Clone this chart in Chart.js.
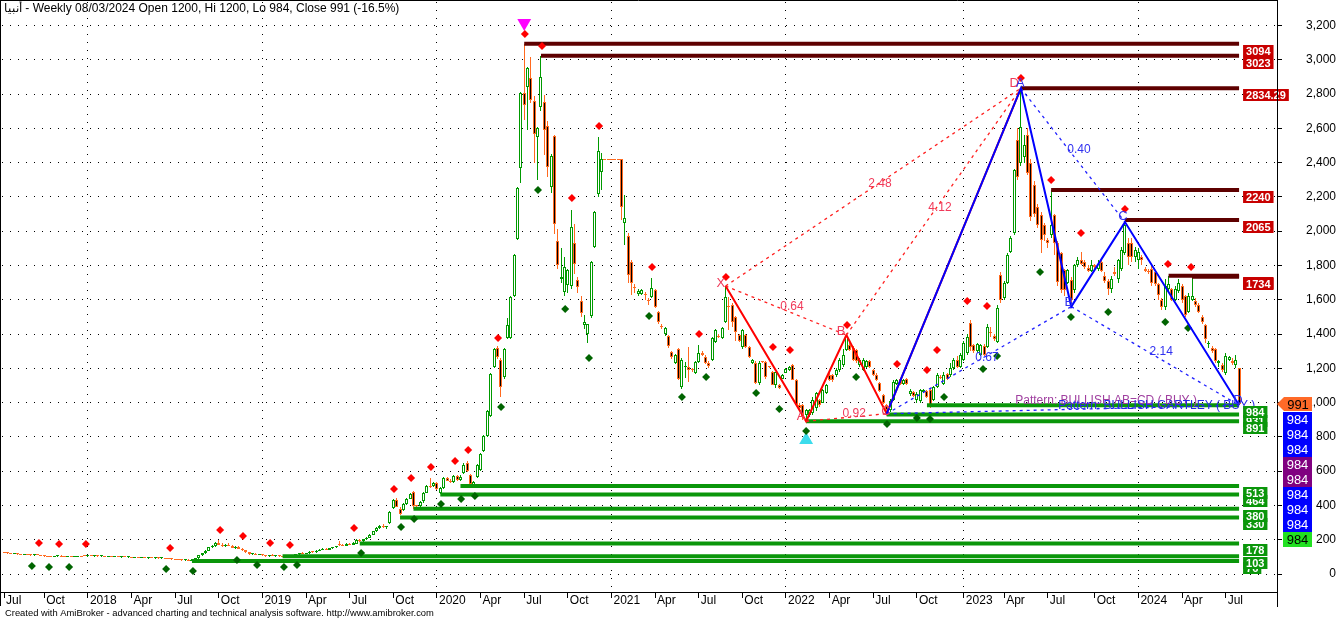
<!DOCTYPE html>
<html><head><meta charset="utf-8">
<script src="https://cdn.jsdelivr.net/npm/chart.js@4.4.1/dist/chart.umd.min.js"></script>
<style>html,body{margin:0;padding:0;background:#fff;overflow:hidden}#wrap{position:relative;width:1336px;height:619px}canvas{display:block}</style>
</head><body><div id="wrap"><canvas id="c" width="1336" height="619"></canvas></div>
<script>
// ---------- DATA ----------
const startYear = 2017, startMonth = 6, startDay = 15; // first weekly bar (Jul 15 2017)
const monthNames = ['Jan','Feb','Mar','Apr','May','Jun','Jul','Aug','Sep','Oct','Nov','Dec'];
const yTickValues = [0,200,400,600,800,1000,1200,1400,1600,1800,2000,2200,2400,2600,2800,3000,3200];

const opens = [
125,122,120,116,120,114,112,115,111,109, 112,110,106,104,102,100,103,107,101,100,
102,99,101,103,108,105,108,104,106,103, 104,102,103,101,102,99,100,98,99,96,
97,94,95,93,94,92,93,91,92,90, 88,86,84,82,80,82,78,84,93,108,
122,136,155,165,182,172,165,170,164,152, 160,147,138,127,115,119,112,115,108,104,
110,105,108,103,101,104,102,106,114,122, 118,121,130,127,136,142,146,141,150,155,
172,170,166,175,171,175,198,192,203,212, 228,248,268,280,272,295,385,432,381,373,
408,440,478,400,396,425,475,515,515,530, 470,500,560,545,537,570,550,590,650,578,
515,566,607,717,805,922,1208,1318,1248,1149, 1377,1377,1622,1954,2369,2806,2841,2894,2760,2550,
2725,2754,2614,2258,2555,1943,1721,1645,1686,1680, 1931,1715,1593,1453,1400,1505,1908,2217,2345,2421,
2421,2421,2421,2421,2421,2048,1972,1820,1670,1633, 1635,1630,1595,1616,1657,1528,1445,1400,1389,1295,
1231,1313,1091,1208,1208,1195,1173,1237,1290,1266, 1231,1248,1354,1390,1377,1470,1565,1569,1499,1394,
1324,1394,1324,1231,1231,1114,1240,1237,1210,1178, 1103,1103,1140,1175,1190,1219,1132,986,986,928,
928,939,969,1015,1000,1056,1161,1161,1161,1190, 1219,1307,1336,1319,1307,1219,1190,1210,1245,1190,
1161,1114,1044,986,957,1015,1110,1135,1110,1140, 1050,1060,1015,1010,1060,1070,1075,1015,1090,1150,
1110,1165,1160,1200,1250,1210,1248,1290,1464,1336, 1300,1280,1330,1324,1412,1390,1353,1744,1610,1698,
1879,1989,2532,2398,2432,2561,2398,2269,2141,2094, 2036,1949,1977,2094,1931,1873,1774,1700,1715,1657,
1803,1832,1820,1785,1770,1800,1780,1820,1740,1710, 1660,1760,1720,1780,1870,1930,1930,1850,1830,1850,
1780,1770,1780,1760,1690,1600,1560,1660,1660,1600, 1650,1680,1620,1530,1600,1590,1570,1500,1450,1340,
1320,1310,1230,1220,1170,1250,1240,1220,1200];
const highs = [
128,125,123,122,121,117,116,117,114,113, 118,112,109,107,105,104,110,109,104,103,
104,103,105,106,113,110,110,108,109,106, 107,105,106,104,104,102,103,101,101,99,
100,97,98,96,97,95,96,94,95,93, 91,89,87,85,84,85,86,95,112,125,
140,160,170,188,200,180,175,178,170,165, 164,152,142,130,122,122,118,118,112,112,
114,110,112,107,106,108,108,116,125,126, 124,132,134,138,145,150,150,152,160,165,
190,176,178,182,185,202,206,205,215,232, 252,272,285,290,282,370,440,445,392,412,
445,470,485,405,425,480,520,560,535,535, 506,565,565,552,575,578,575,645,660,585,
545,640,705,810,955,1170,1320,1330,1260,1320, 1494,1620,1865,2255,2810,3094,2960,3016,2790,2610,
3023,2795,2640,2450,2560,2010,1900,1850,1780,2124, 2040,1735,1620,1510,1460,1825,2115,2550,2456,2421,
2421,2421,2421,2421,2421,2211,1990,1830,1690,1660, 1665,1645,1610,1727,1665,1535,1460,1440,1395,1300,
1285,1320,1260,1237,1324,1200,1245,1336,1300,1275, 1240,1385,1430,1400,1440,1680,1616,1580,1505,1400,
1430,1400,1330,1255,1240,1240,1245,1245,1215,1185, 1180,1110,1165,1200,1215,1225,1140,995,990,960,
960,1030,1060,1020,1080,1110,1170,1165,1200,1260, 1310,1394,1360,1330,1315,1260,1260,1250,1250,1195,
1170,1120,1050,990,1020,1130,1140,1145,1140,1145, 1080,1070,1060,1080,1080,1075,1085,1095,1170,1160,
1180,1170,1230,1260,1270,1290,1360,1400,1480,1340, 1350,1340,1340,1460,1440,1400,1570,1760,1710,1870,
1970,2360,2600,2834,2560,2600,2420,2290,2160,2110, 2050,1960,2240,2100,1940,1880,1780,1780,1730,1810,
1850,1880,1830,1800,1830,1810,1830,1830,1760,1720, 1740,1790,1840,1910,2053,1960,1960,1910,1900,1860,
1790,1780,1800,1770,1700,1610,1720,1740,1670,1680, 1720,1690,1630,1640,1734,1610,1580,1510,1460,1360,
1330,1320,1250,1230,1290,1270,1260,1275,1200];
const lows = [
120,118,115,114,112,110,109,110,107,106, 108,104,102,100,98,97,101,100,98,97,
98,97,99,100,104,102,103,101,102,100, 101,99,100,98,98,96,97,95,94,93,
93,91,92,90,91,89,90,88,89,86, 84,82,80,78,76,75,76,82,90,105,
118,132,150,160,170,160,158,162,150,148, 145,135,125,113,112,110,108,106,102,102,
103,100,102,98,97,100,100,104,112,116, 115,119,124,125,133,138,139,139,147,150,
165,163,163,168,168,173,188,188,200,208, 225,245,262,268,262,290,380,388,345,365,
402,435,380,390,392,415,470,500,505,488, 465,495,540,530,532,545,540,585,595,520,
510,560,600,710,800,915,1200,1255,1033,1140, 1370,1370,1615,1950,2281,2649,2590,2748,2398,2299,
2700,2445,2316,2222,1984,1780,1698,1620,1640,1660, 1750,1640,1500,1430,1348,1495,1900,2200,2240,2421,
2421,2421,2421,2421,2065,1919,1700,1628,1640,1620, 1625,1600,1570,1610,1550,1460,1430,1390,1320,1255,
1225,1130,1080,1143,1120,1180,1165,1230,1270,1225, 1200,1240,1345,1375,1370,1465,1423,1440,1360,1355,
1315,1320,1260,1225,1110,1105,1232,1140,1200,1100, 1085,1080,1135,1170,1185,1130,980,960,900,891,
916,930,950,975,995,1050,1125,1120,1150,1180, 1210,1300,1300,1245,1230,1210,1185,1200,1200,1155,
1125,1060,990,935,945,1010,1100,1105,1100,1105, 1040,1030,1000,1000,1055,1025,970,1010,1085,1140,
1105,1130,1150,1190,1200,1200,1240,1280,1300,1290, 1290,1270,1270,1320,1380,1360,1345,1580,1600,1690,
1870,1980,2300,2380,2400,2330,2060,2080,2020,1870, 1940,1900,1960,1860,1680,1640,1620,1690,1560,1640,
1790,1800,1780,1760,1760,1770,1770,1760,1700,1630, 1640,1740,1700,1770,1860,1800,1820,1820,1780,1800,
1760,1750,1680,1680,1600,1540,1540,1650,1590,1590, 1640,1580,1500,1520,1590,1560,1520,1460,1350,1320,
1290,1230,1210,1180,1160,1240,1220,1200,984];
const closes = [
122,120,116,120,114,112,115,111,109,112, 110,106,104,102,100,103,107,101,100,102,
99,101,103,101,105,108,104,106,103,104, 102,103,101,102,99,100,98,99,96,97,
94,95,93,94,92,93,91,92,90,88, 86,84,82,80,82,78,84,93,108,122,
136,155,165,182,172,165,170,164,152,160, 147,138,127,115,119,112,115,108,104,110,
105,108,103,101,104,102,106,114,122,118, 121,130,127,136,142,146,141,150,157,162,
170,166,175,171,183,198,192,203,212,228, 248,268,280,272,276,362,432,392,352,408,
440,465,395,396,420,475,515,508,530,495, 500,560,545,537,570,550,568,636,601,525,
538,636,700,805,951,1167,1313,1266,1091,1313, 1453,1616,1861,2252,2806,2736,2952,2765,2567,2600,
2900,2590,2374,2439,2042,1800,1733,1791,1773,2024, 1808,1675,1523,1470,1458,1820,2112,2468,2421,2421,
2421,2421,2421,2421,2141,2077,1744,1698,1668,1651, 1655,1628,1593,1668,1558,1470,1441,1435,1330,1266,
1278,1138,1248,1210,1190,1190,1237,1290,1278,1231, 1215,1377,1424,1383,1435,1616,1558,1470,1412,1360,
1424,1324,1266,1248,1114,1231,1237,1149,1208,1103, 1178,1085,1160,1195,1208,1132,986,968,916,957,
957,1015,1056,986,1073,1103,1132,1132,1190,1248, 1278,1390,1307,1250,1240,1248,1250,1240,1210,1161,
1132,1067,1000,957,1010,1120,1130,1110,1130,1110, 1070,1040,1050,1075,1075,1035,985,1090,1160,1145,
1160,1140,1200,1250,1210,1280,1348,1380,1324,1300, 1340,1336,1280,1441,1408,1370,1552,1598,1698,1861,
1961,2357,2316,2608,2503,2339,2083,2100,2036,1949, 1977,1930,2036,1931,1704,1657,1657,1774,1598,1800,
1832,1810,1790,1770,1800,1790,1810,1770,1710,1660, 1720,1750,1830,1890,2036,1850,1850,1890,1880,1830,
1770,1760,1700,1690,1628,1560,1680,1690,1600,1660, 1700,1600,1510,1620,1620,1570,1530,1470,1370,1350,
1300,1240,1240,1190,1270,1265,1230,1250,991];

// swing-high (red) and swing-low (green) markers: bar index, price
const redPivotX = [10.4,16.4,24.4,49.5,64.4,71.2,79.3,85.2,104.3,116.2,121.3,127.2,134.4,138.3,147.2,155.2,160.3,169.2,177.3,193.1,207.1,215.1,229.1,234.2,251.2,266.1,275,278,287,292.9,303,312,320.9,334,346.8,353.7];
const redPivotY = [181,175,175,152,257,222,181,169,268,496,560,624,659,723,1377,3150,3080,2194,2614,1791,1400,1733,1324,1307,1453,1225,1190,1307,1593,1563,2894,2299,1989,2129,1809,1791];
const greenPivotX = [8.3,13.4,19.4,48.3,56.3,69.4,75.4,83.4,87.3,106.4,118.3,122.2,130.2,136.2,140.3,148.1,159.1,167.2,174.3,192.2,202,209.2,224.1,231,239,253.9,263.1,272,275.9,280.1,291.7,295.9,308.7,317.9,329,346,352.8];
const greenPivotY = [47,41,41,29,18,82,53,41,53,123,274,321,408,438,455,974,2240,1546,1260,1505,1033,1149,1056,963,834,1149,875,910,904,1033,1196,1272,1762,1499,1528,1470,1435];

// peak / trough arrows
const peakArrow = {x: 155, y: 3215};
const troughArrow = {x: 239, y: 782};

// horizontal resistance (maroon) and support (green) levels
const lastBar = 368;
const resistanceValues = [3094, 3023, 2834.29, 2240, 2065, 1740, 1734];
const resistanceStart  = [155, 160, 303, 312, 334, 347, 354];
const resistanceLabels = ['3094','3023','2834.29','2240','2065','1734','1734'];
const supportValues = [76, 103, 178, 330, 380, 464, 513, 931, 984, 891];
const supportStart  = [56, 83, 106, 118, 122, 130, 136, 263, 275, 239];
const supportLabels = ['76','103','178','330','380','464','513','931','984','891'];

// harmonic patterns (bar index, price)
const redPatX = [215, 239, 251, 263, 303];
const redPatY = [1680, 891, 1394, 935, 2834];
const bluePatX = [263, 303, 318, 334, 368];
const bluePatY = [935, 2834, 1560, 2053, 984];

// text annotations
const redTexts = [['X',213.6,1698],['A',237.5,922],['B',249.4,1418],['C',262.8,951],['D',301.0,2864],
                  ['0.64',234.8,1558],['2.48',261,2275],['4.12',278.9,2135],['0.92',253.3,936]];
const blueTexts = [['A',302.8,2864],['B',317.3,1587],['C',333.4,2088],['D',367.7,1015],
                   ['0.67',292.9,1263],['0.40',320.3,2476],['2.14',344.8,1295]];
const patternNotes = [['Pattern: BULLISH AB=CD ( BUY )',301.3,1009,'#A040A0'],
                      ['Pattern: BULLISH GARTLEY ( BUY )',314.1,984,'#2828E8']];
const lastClose = 991;
const axisBadges = [['984','#0000FF','#fff'],['984','#0000FF','#fff'],['984','#0000FF','#fff'],
                    ['984','#800080','#fff'],['984','#800080','#fff'],
                    ['984','#0000FF','#fff'],['984','#0000FF','#fff'],['984','#0000FF','#fff'],
                    ['984','#22E022','#000']];
const titleText = 'أنبيا - Weekly 08/03/2024 Open 1200, Hi 1200, Lo 984, Close 991 (-16.5%)';
const footerText = 'Created with AmiBroker - advanced charting and technical analysis software. http://www.amibroker.com';

// ---------- RENDER ----------
const FONT = '"Liberation Sans", Arial, sans-serif';
const UP = '#009A00', DOWN = '#FF6A1F';

function buildXTicks() {
  const t = []; const base = Date.UTC(startYear, startMonth, startDay); let prev = -1;
  for (let i = 0; i < closes.length; i++) {
    const d = new Date(base + i * 7 * 86400000); const m = d.getUTCMonth();
    if (m !== prev && m % 3 === 0) t.push({value: i, label: m === 0 ? String(d.getUTCFullYear()) : monthNames[m], isYear: m === 0});
    prev = m;
  }
  return t;
}
const xTicks = buildXTicks();

const isUp = closes.map((c, i) => c > opens[i]);
const datasets = [];
datasets.push({type: 'bar', order: 4, grouped: false, barThickness: 1, minBarLength: 1, inflateAmount: 0,
  data: closes.map((c, i) => ({x: i, y: [lows[i], highs[i]]})),
  backgroundColor: isUp.map(u => u ? UP : DOWN), borderWidth: 0});
datasets.push({type: 'bar', order: 3, grouped: false, barThickness: 3, minBarLength: 1, inflateAmount: 0,
  data: closes.map((c, i) => ({x: i, y: [opens[i], c]})),
  backgroundColor: isUp.map(u => u ? '#FFFFFF' : '#000000'),
  borderColor: isUp.map(u => u ? UP : DOWN), borderWidth: 1, borderSkipped: false});

supportValues.forEach((v, k) => datasets.push({type: 'line', order: 2, data: [{x: supportStart[k], y: v}, {x: lastBar, y: v}],
  borderColor: '#0A960A', borderWidth: 4, pointRadius: 0}));
resistanceValues.forEach((v, k) => datasets.push({type: 'line', order: 2, data: [{x: resistanceStart[k], y: v}, {x: lastBar, y: v}],
  borderColor: '#5E0000', borderWidth: 4, pointRadius: 0}));

function seg(X, Y, a, b) { return [{x: X[a], y: Y[a]}, {x: X[b], y: Y[b]}]; }
[[0,2],[2,4],[0,4],[1,3]].forEach(p => datasets.push({type: 'line', order: 1, data: seg(redPatX, redPatY, p[0], p[1]),
  borderColor: '#FF2020', borderWidth: 1.3, borderDash: [3, 4], pointRadius: 0}));
[[0,2],[2,4],[0,4],[1,3]].forEach(p => datasets.push({type: 'line', order: 1, data: seg(bluePatX, bluePatY, p[0], p[1]),
  borderColor: '#2020FF', borderWidth: 1.3, borderDash: [3, 4], pointRadius: 0}));
datasets.push({type: 'line', order: 1, data: redPatX.map((x, k) => ({x, y: redPatY[k]})), borderColor: '#FF0000', borderWidth: 2, pointRadius: 0});
datasets.push({type: 'line', order: 0, data: bluePatX.map((x, k) => ({x, y: bluePatY[k]})), borderColor: '#0000FF', borderWidth: 2, pointRadius: 0});

datasets.push({type: 'scatter', order: 0, data: redPivotX.map((x, k) => ({x, y: redPivotY[k]})),
  pointStyle: 'rectRot', pointRadius: 4, backgroundColor: '#FF0000', borderWidth: 0});
datasets.push({type: 'scatter', order: 0, data: greenPivotX.map((x, k) => ({x, y: greenPivotY[k]})),
  pointStyle: 'rectRot', pointRadius: 4, backgroundColor: '#006400', borderWidth: 0});
datasets.push({type: 'scatter', order: 0, data: [peakArrow], pointStyle: 'triangle', rotation: 180, pointRadius: 8, backgroundColor: '#FF00FF', borderWidth: 0});
datasets.push({type: 'scatter', order: 0, data: [troughArrow], pointStyle: 'triangle', pointRadius: 8, backgroundColor: '#3CDCEC', borderWidth: 0});

function box(ctx, x, y, text, bg, fg, font, h) {
  ctx.font = font; const w = ctx.measureText(text).width + 6;
  ctx.fillStyle = bg; ctx.fillRect(x, y, w, h);
  ctx.fillStyle = fg; ctx.textAlign = 'left'; ctx.textBaseline = 'middle';
  ctx.fillText(text, x + 3, y + h / 2 + 0.5);
}

// snap candle elements to whole pixels so they render crisply
const snap = {
  id: 'snap',
  beforeDatasetsDraw(chart) {
    [0, 1].forEach(di => {
      chart.getDatasetMeta(di).data.forEach(el => {
        el.x = Math.floor(el.x) + 0.5;
        let a = Math.round(el.y), b = Math.round(el.base);
        if (Math.abs(a - b) < 1) b = a + 1;
        el.y = a; el.base = b;
      });
    });
  }
};

const overlay = {
  id: 'overlay',
  afterDatasetsDraw(chart) {
    const {ctx, scales: {x, y}} = chart;
    ctx.save();
    ctx.textAlign = 'center'; ctx.textBaseline = 'middle';
    redTexts.forEach(t => { ctx.fillStyle = '#F03A5A'; ctx.font = (t[0].length > 1 ? '12px ' : '13px ') + FONT; ctx.fillText(t[0], x.getPixelForValue(t[1]), y.getPixelForValue(t[2])); });
    blueTexts.forEach(t => { ctx.fillStyle = '#3030F0'; ctx.font = (t[0].length > 1 ? '12px ' : '13px ') + FONT; ctx.fillText(t[0], x.getPixelForValue(t[1]), y.getPixelForValue(t[2])); });
    ctx.textAlign = 'left'; ctx.font = '12px ' + FONT;
    patternNotes.forEach(t => { ctx.fillStyle = t[3]; ctx.fillText(t[0], x.getPixelForValue(t[1]), y.getPixelForValue(t[2])); });
    const bx = x.getPixelForValue(lastBar) + 4;
    const bf = 'bold 11px ' + FONT;
    resistanceValues.forEach((v, k) => box(ctx, bx, Math.round(y.getPixelForValue(v)) + 1, resistanceLabels[k], '#C80000', '#fff', bf, 12));
    supportValues.forEach((v, k) => box(ctx, bx, Math.round(y.getPixelForValue(v)) + 1, supportLabels[k], '#0A960A', '#fff', bf, 12));
    ctx.restore();
  },
  afterDraw(chart) {
    const {ctx, chartArea: ca, scales: {y}} = chart;
    ctx.save();
    ctx.strokeStyle = '#000'; ctx.lineWidth = 1;
    ctx.beginPath();
    ctx.moveTo(0.5, 0); ctx.lineTo(0.5, 606);
    ctx.moveTo(0, 0.5); ctx.lineTo(ca.right, 0.5);
    ctx.moveTo(Math.round(ca.right) + 0.5, 0); ctx.lineTo(Math.round(ca.right) + 0.5, 607);
    ctx.moveTo(0, Math.round(ca.bottom) + 0.5); ctx.lineTo(ca.left, Math.round(ca.bottom) + 0.5);
    ctx.stroke();
    const yc = Math.round(y.getPixelForValue(lastClose));
    const L = Math.round(ca.right), R = L + 35;
    ctx.fillStyle = '#FF6A28';
    ctx.beginPath(); ctx.moveTo(L, yc); ctx.lineTo(L + 7, yc - 7); ctx.lineTo(R, yc - 7); ctx.lineTo(R, yc + 7); ctx.lineTo(L + 7, yc + 7); ctx.closePath(); ctx.fill();
    ctx.font = '13px ' + FONT; ctx.textAlign = 'center'; ctx.textBaseline = 'middle';
    ctx.fillStyle = '#000'; ctx.fillText(String(lastClose), L + 21, yc + 1);
    let top = yc + 8;
    axisBadges.forEach(b => {
      ctx.fillStyle = b[1]; ctx.fillRect(L + 6, top, 29, 15);
      ctx.fillStyle = b[2]; ctx.fillText(b[0], L + 20.5, top + 8);
      top += 15;
    });
    ctx.textAlign = 'left'; ctx.textBaseline = 'middle'; ctx.fillStyle = '#000';
    ctx.font = '12px ' + FONT; ctx.fillText(titleText, 4, 9);
    ctx.font = '9.4px ' + FONT; ctx.fillText(footerText, 5, 613);
    ctx.restore();
  }
};

new Chart(document.getElementById('c'), {
  type: 'bar',
  data: {datasets},
  options: {
    responsive: false, animation: false, devicePixelRatio: 1, events: [],
    layout: {autoPadding: false, padding: {left: 2, top: 2, right: 0, bottom: 0}},
    plugins: {legend: {display: false}, tooltip: {enabled: false}},
    scales: {
      x: {type: 'linear', position: 'bottom', min: -0.6, max: 379.3, offset: false,
        grid: {offset: false, color: c => (c.tick && c.tick.isYear) ? '#000' : 'rgba(0,0,0,0)', lineWidth: 1, tickColor: '#000', tickLength: 6, tickWidth: 1},
        border: {display: true, color: '#000', width: 1, dash: [1, 7]},
        ticks: {autoSkip: false, maxRotation: 0, minRotation: 0, align: 'start', labelOffset: 2, padding: -5,
          font: {family: FONT, size: 12}, color: '#000', callback: (v, i, t) => t[i].label},
        afterBuildTicks: s => { s.ticks = xTicks.map(t => ({value: t.value, label: t.label, isYear: t.isYear})); },
        afterFit: s => { s.height = 27; s.paddingLeft = 0; s.paddingRight = 0; }
      },
      y: {type: 'linear', position: 'right', min: -105, max: 3337,
        grid: {color: '#000', tickColor: '#000', tickLength: 5, lineWidth: 1},
        border: {display: true, color: '#000', width: 1, dash: [1, 7]},
        ticks: {font: {family: FONT, size: 12}, color: '#000', padding: 19, crossAlign: 'far',
          callback: v => Number(v).toLocaleString('en-US')},
        afterBuildTicks: s => { s.ticks = yTickValues.map(v => ({value: v})); },
        afterFit: s => { s.width = 59; s.paddingTop = 0; s.paddingBottom = 0; }
      }
    }
  },
  plugins: [snap, overlay]
});
</script></body></html>
